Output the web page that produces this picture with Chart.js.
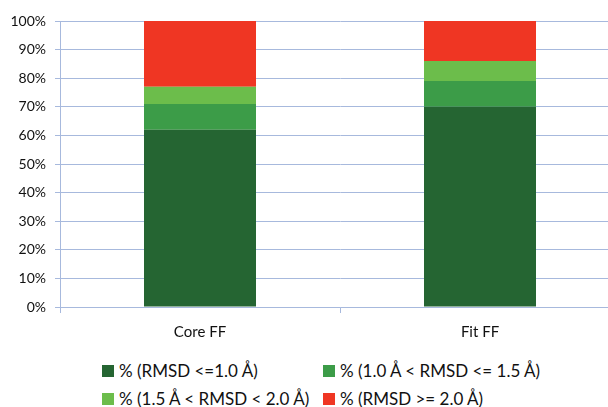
<!DOCTYPE html>
<html><head><meta charset="utf-8">
<script src="https://cdn.jsdelivr.net/npm/chart.js@4/dist/chart.umd.min.js"></script>
<style>
html,body{margin:0;padding:0;background:#fff;width:608px;height:407px;overflow:hidden;}
#wrap{position:absolute;left:0;top:0;width:630px;height:345px;}
#legend{position:absolute;left:0;top:0;width:608px;font-family:Lato,"Open Sans",sans-serif;font-size:17px;color:#111;}
.item{position:absolute;display:flex;align-items:center;white-space:nowrap;height:20px;line-height:20px;}
.box{width:12px;height:12px;margin-right:5px;display:inline-block;}
</style></head>
<body>
<div id="wrap"><canvas id="c"></canvas></div>
<div id="legend"></div>
<script>
const categories = ["Core FF", "Fit FF"];
const seriesLabels = ["% (RMSD <=1.0 Å)", "% (1.0 Å < RMSD <= 1.5 Å)", "% (1.5 Å < RMSD < 2.0 Å)", "% (RMSD >= 2.0 Å)"];
const rmsdLe10 = [62, 70];
const rmsd10to15 = [9, 9];
const rmsd15to20 = [6, 7];
const rmsdGe20 = [23, 14];
const yTicks = [0,10,20,30,40,50,60,70,80,90,100];
const colors = ["#256532", "#3c9c48", "#6cbd4b", "#ef3623"];
const seriesData = [rmsdLe10, rmsd10to15, rmsd15to20, rmsdGe20];

const gridColor = "#a7b9dd";
const font = {family: "Lato, 'Open Sans', sans-serif"};

new Chart(document.getElementById('c'), {
  type: 'bar',
  data: {
    labels: categories,
    datasets: seriesData.map((d,i)=>({label: seriesLabels[i], data: d, backgroundColor: colors[i], borderWidth: 0,
      categoryPercentage: 1.0, barPercentage: 0.4}))
  },
  options: {
    responsive: true, maintainAspectRatio: false, animation: false,
    layout: {padding: {top: 21, right: 10, left: 0, bottom: 0}},
    plugins: {legend: {display: false}, tooltip: {enabled: false}},
    scales: {
      x: {
        stacked: true,
        grid: {display: true, offset: true, drawOnChartArea: false, color: gridColor, tickLength: 6},
        border: {color: gridColor},
        ticks: {color: "#111", font: {...font, size: 15}, padding: 10},
        afterFit: s => { s.height = 38; }
      },
      y: {
        stacked: true, min: 0, max: 100,
        afterBuildTicks: s => { s.ticks = yTicks.map(v=>({value:v})); },
        grid: {color: gridColor, tickLength: 5},
        border: {color: gridColor},
        ticks: {color: "#111", font: {...font, size: 14}, padding: 9, callback: v => v + '%'},
        afterFit: s => { s.width = 60; }
      }
    }
  }
});

const leg = document.getElementById('legend');
const pos = [[102,361],[323,361],[102,389],[323,389]];
seriesLabels.forEach((l,i)=>{
  const d = document.createElement('div');
  d.className='item';
  d.style.left = pos[i][0]+'px'; d.style.top = pos[i][1]+'px';
  d.innerHTML = '<span class="box" style="background:'+colors[i]+'"></span><span></span>';
  d.lastChild.textContent = l;
  leg.appendChild(d);
});
</script>
</body></html>
